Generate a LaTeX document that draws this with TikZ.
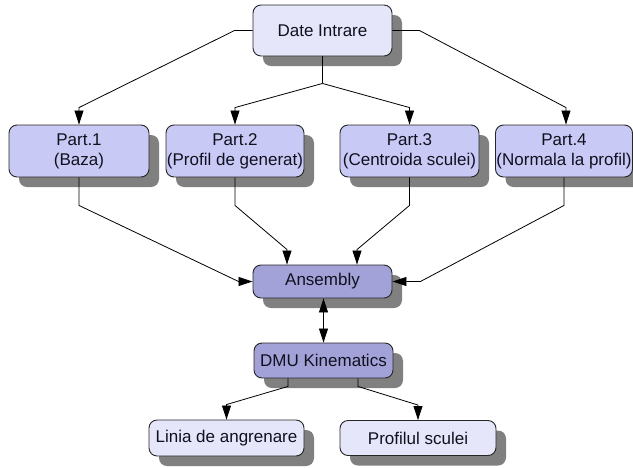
\documentclass[tikz,border=0pt]{standalone}
\usepackage{fontspec}
\setmainfont{Liberation Sans}
\usetikzlibrary{arrows.meta,shadows,calc}
\definecolor{lightbox}{HTML}{E6E6FA}
\definecolor{partbox}{HTML}{C9C9F6}
\definecolor{darkbox}{HTML}{A2A2D8}
\definecolor{shadowgray}{HTML}{808080}
\definecolor{textcol}{HTML}{10101E}
\begin{document}
\begin{tikzpicture}[x=1pt,y=-1pt,
  box/.style={draw=black!85, line width=0.9pt, rounded corners=8pt, inner sep=0pt,
    align=center, text=textcol, font=\fontsize{17}{20}\selectfont,
    drop shadow={shadow xshift=10pt, shadow yshift=-10pt, fill=shadowgray, opacity=1}},
  lbox/.style={box, fill=lightbox},
  pbox/.style={box, fill=partbox},
  dbox/.style={box, fill=darkbox},
  conn/.style={draw=black, line width=0.8pt},
  arr/.style={conn, -{Triangle[length=14pt,width=9pt]}},
  darr/.style={conn, {Triangle[length=14pt,width=9pt]}-{Triangle[length=14pt,width=9pt]}}
]
\useasboundingbox (0,0) rectangle (633,467);

\node[lbox, minimum width=139pt, minimum height=51pt] (date) at (322.5,30.5) {Date Intrare};

\node[pbox, minimum width=140pt, minimum height=52pt] (p1) at (79,151) {Part.1\\(Baza)};
\node[pbox, minimum width=138pt, minimum height=52pt] (p2) at (235,151) {Part.2\\(Profil de generat)};
\node[pbox, minimum width=139pt, minimum height=52pt] (p3) at (409.5,151) {Part.3\\(Centroida sculei)};
\node[pbox, minimum width=137pt, minimum height=52pt] (p4) at (564,151) {Part.4\\(Normala la profil)};

\node[dbox, minimum width=139pt, minimum height=33pt] (ans) at (322.5,281.5) {Ansembly};
\node[dbox, minimum width=139pt, minimum height=35pt] (dmu) at (323.5,360.5) {DMU Kinematics};

\node[lbox, minimum width=155pt, minimum height=36pt] (lin) at (226.5,438) {Linia de angrenare};
\node[lbox, minimum width=156pt, minimum height=35pt] (prof) at (418,438) {Profilul sculei};

% Date Intrare -> parts
\draw[arr] (date.west) -- ++(-18,0) -- ($(p1.north)+(0,-17)$) -- (p1.north);
\draw[arr] (date.east) -- ++(27,0) -- ($(p4.north)+(2,-17)$) -- ($(p4.north)+(2,0)$);
\draw[conn] (date.south) -- ++(0,27) coordinate (j);
\draw[arr] (j) -- ($(p2.north)+(0,-17)$) -- (p2.north);
\draw[arr] (j) -- ($(p3.north)+(0,-17)$) -- (p3.north);

% parts -> Ansembly
\draw[arr] (p1.south) -- ++(0,28) -- ($(ans.west)+(-14,0)$) -- (ans.west);
\draw[arr] (p2.south) -- ++(0,28) -- ($(ans.north)+(-35.5,-15)$) -- ($(ans.north)+(-35.5,0)$);
\draw[arr] (p3.south) -- ++(0,28) -- ($(ans.north)+(34.5,-15)$) -- ($(ans.north)+(34.5,0)$);
\draw[arr] (p4.south) -- ++(0,28) -- ($(ans.east)+(28,0)$) -- (ans.east);

% Ansembly <-> DMU
\draw[darr] (ans.south -| dmu.north) -- (dmu.north);

% DMU -> outputs
\draw[arr] ($(dmu.south)+(-35.5,0)$) -- ++(0,8) -- ($(lin.north)+(0,-15)$) -- (lin.north);
\draw[arr] ($(dmu.south)+(34.5,0)$) -- ++(0,8) -- ($(prof.north)+(0,-15)$) -- (prof.north);
\end{tikzpicture}
\end{document}
